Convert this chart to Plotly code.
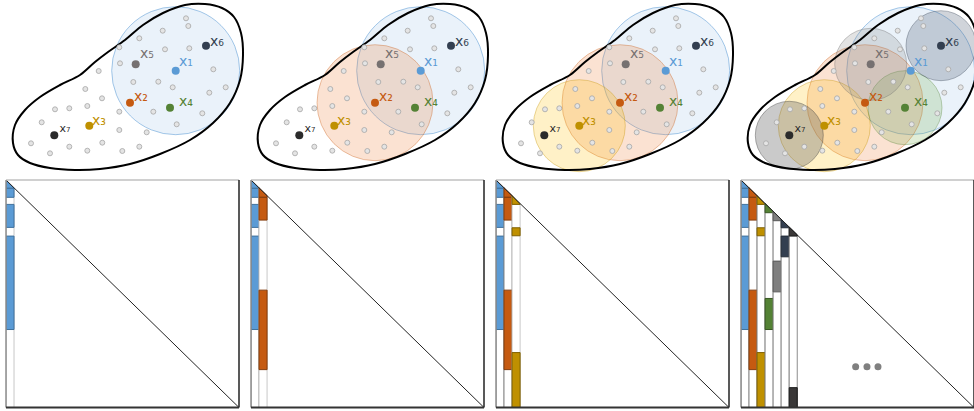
import plotly.graph_objects as go

# ---------------- data ----------------
# panel-relative pixel-like coordinates of the top sketch (y grows downward)
blob_x = [13, 18, 30, 50, 75, 100, 130, 160, 190, 213, 230, 240, 243, 241, 234, 222, 205, 185, 163, 143, 125, 108, 95, 80, 60, 40, 25, 15, 13]
blob_y = [143, 155, 163, 168, 170, 169, 164, 154, 140, 123, 103, 80, 55, 33, 17, 8, 4, 5, 13, 25, 40, 52, 62, 75, 85, 97, 110, 125, 143]

bg_x = [186, 188.3, 162.7, 139.3, 165, 189.3, 119.3, 120, 98.7, 213.3, 133.3, 158.3, 172.7, 85.3, 102, 209.3, 225.7,
        55, 69.3, 87.3, 119.3, 153.3, 202.3, 41.7, 119.3, 146.7, 176.7, 31, 50, 69.3, 87.3, 102.3, 122.3, 139.3]
bg_y = [18.3, 26, 30.7, 38.3, 49.3, 48.3, 47.3, 63.3, 71, 69.3, 82, 81.7, 87.3, 89, 98.3, 92.7, 87.3,
        109.3, 108.3, 106, 111.7, 111.7, 113.3, 122.3, 130, 132.3, 124.3, 143.3, 153.3, 146.7, 150.7, 142.7, 151, 146.7]

pt_names = ["x₁", "x₂", "x₃", "x₄", "x₅", "x₆", "x₇"]
pt_x = [175.7, 130, 89.3, 170, 135.7, 206, 54.3]
pt_y = [70.7, 102.7, 125.7, 107.7, 64.3, 45.7, 135.3]
lab_x = [186, 141, 99, 186, 147, 217, 65]
lab_y = [62, 97, 121, 102, 54, 42, 129]
radius = [64, 58, 46, 37, 36, 35, 34]

# matrix columns: first segment starts at the diagonal; values in row units (0..29)
col_segments = [
    [(None, 1.06), (1.06, 2.21), (3.11, 6.04), (7.15, 19.06)],
    [(None, 2.21), (2.21, 5.11), (14.04, 24.17)],
    [(None, 3.11), (6.09, 7.11), (22.0, 29.0)],
    [(None, 4.17), (15.1, 19.06)],
    [(None, 5.19), (10.34, 14.26)],
    [(None, 6.09), (7.15, 9.79)],
    [(None, 7.15), (26.47, 29.0)],
]
n_cols_per_panel = [1, 2, 3, 7]
N = 29
dots_x = [14.27, 15.68, 17.05]
dots_y = [23.8, 23.8, 23.8]

# ---------------- styles ----------------
pt_colors = ["#5b9bd5", "#c55a11", "#bf9000", "#548235", "#767171", "#333f50", "#2b2b2b"]
bar_colors = ["#5b9bd5", "#c55a11", "#bf9000", "#548235", "#7f7f7f", "#333f50", "#3a3838"]
bar_lines = ["#41719c", "#843c0c", "#7f6000", "#385723", "#595959", "#222a35", "#1a1a1a"]
circ_fill = ["rgba(91,155,213,0.13)", "rgba(237,125,49,0.22)", "rgba(255,192,0,0.22)",
             "rgba(112,173,71,0.22)", "rgba(128,128,128,0.22)", "rgba(68,84,106,0.25)", "rgba(90,90,90,0.32)"]
circ_line = ["rgba(91,155,213,0.55)", "rgba(197,90,17,0.35)", "rgba(191,144,0,0.35)",
             "rgba(84,130,53,0.35)", "rgba(100,100,100,0.35)", "rgba(51,63,80,0.35)", "rgba(60,60,60,0.4)"]

W, H = 974, 411
offsets = [0, 245, 490, 735]

fig = go.Figure()
layout = dict(width=W, height=H, margin=dict(l=0, r=0, t=0, b=0), autosize=False,
              paper_bgcolor="white", plot_bgcolor="rgba(0,0,0,0)", showlegend=False)
shapes = []

for p, off in enumerate(offsets):
    ti = p + 1
    bi = p + 5
    pw = min(245, W - off)
    layout[f"xaxis{ti}"] = dict(domain=[off / W, (off + pw) / W], range=[0, pw], visible=False, fixedrange=True)
    layout[f"yaxis{ti}"] = dict(domain=[1 - 175 / H, 1], range=[175, 0], visible=False, fixedrange=True)
    x0 = (off + 6) / W
    x1 = min((off + 239) / W, 1)
    layout[f"xaxis{bi}"] = dict(domain=[x0, x1], range=[0, N], visible=False, fixedrange=True)
    layout[f"yaxis{bi}"] = dict(domain=[1 - 407.5 / H, 1 - 180 / H], range=[N, 0], visible=False, fixedrange=True)
    xa, ya = f"x{ti}", f"y{ti}"
    xb, yb = f"x{bi}", f"y{bi}"

    # circles
    ncirc = n_cols_per_panel[p]
    for k in range(ncirc):
        shapes.append(dict(type="circle", xref=xa, yref=ya, layer="below",
                           x0=pt_x[k] - radius[k], x1=pt_x[k] + radius[k],
                           y0=pt_y[k] - radius[k], y1=pt_y[k] + radius[k],
                           fillcolor=circ_fill[k], line=dict(color=circ_line[k], width=1)))
    # blob outline
    fig.add_trace(go.Scatter(x=blob_x, y=blob_y, mode="lines", xaxis=xa, yaxis=ya,
                             line=dict(color="black", width=2, shape="spline", smoothing=1.0),
                             hoverinfo="skip"))
    # background points
    fig.add_trace(go.Scatter(x=bg_x, y=bg_y, mode="markers", xaxis=xa, yaxis=ya,
                             marker=dict(size=5, color="#e4e4e4", line=dict(color="#a6a6a6", width=0.8)),
                             hoverinfo="skip"))
    # labeled points
    fig.add_trace(go.Scatter(x=pt_x, y=pt_y, mode="markers", xaxis=xa, yaxis=ya,
                             marker=dict(size=8, color=pt_colors, line=dict(width=0)), hoverinfo="skip"))
    fig.add_trace(go.Scatter(x=lab_x, y=lab_y, mode="text", text=pt_names,
                             xaxis=xa, yaxis=ya,
                             textfont=dict(size=[14, 14, 14, 14, 14, 14, 11], color=pt_colors,
                                           family="DejaVu Sans"),
                             hoverinfo="skip"))

    # matrix columns
    ncol = n_cols_per_panel[p]
    for k in range(ncol):
        last = (k == ncol - 1) and p < 3
        fig.add_trace(go.Scatter(x=[k, k + 1, k + 1, k, k], y=[k, k + 1, N, N, k], mode="lines",
                                 fill="toself", fillcolor="white", xaxis=xb, yaxis=yb,
                                 line=dict(color="#c8c8c8" if last else "#8c8c8c", width=1),
                                 hoverinfo="skip"))
        for (s, e) in col_segments[k]:
            if s is None:
                xs = [k, k + 1, k + 1, k, k]
                ys = [k, k + 1, e, e, k]
            else:
                xs = [k, k + 1, k + 1, k, k]
                ys = [s, s, e, e, s]
            fig.add_trace(go.Scatter(x=xs, y=ys, mode="lines", fill="toself", fillcolor=bar_colors[k],
                                     xaxis=xb, yaxis=yb, line=dict(color=bar_lines[k], width=1),
                                     hoverinfo="skip"))
    # diagonal
    fig.add_trace(go.Scatter(x=[0, N], y=[0, N], mode="lines", xaxis=xb, yaxis=yb,
                             line=dict(color="#222222", width=1), hoverinfo="skip"))
    if p == 3:
        fig.add_trace(go.Scatter(x=dots_x, y=dots_y, mode="markers", xaxis=xb, yaxis=yb,
                                 marker=dict(size=7, color="#808080"), hoverinfo="skip"))
    # frame
    shapes.append(dict(type="line", xref=f"{xb} domain", yref=f"{yb} domain", x0=0, x1=1, y0=1, y1=1,
                       line=dict(color="#c0c0c0", width=1.5)))
    shapes.append(dict(type="line", xref=f"{xb} domain", yref=f"{yb} domain", x0=0, x1=0, y0=0, y1=1,
                       line=dict(color="#8c8c8c", width=1.5)))
    shapes.append(dict(type="line", xref=f"{xb} domain", yref=f"{yb} domain", x0=1, x1=1, y0=0, y1=1,
                       line=dict(color="#222222", width=1.5)))
    shapes.append(dict(type="line", xref=f"{xb} domain", yref=f"{yb} domain", x0=0, x1=1, y0=0, y1=0,
                       line=dict(color="#333333", width=2)))

layout["shapes"] = shapes
fig.update_layout(**layout)
fig.write_html("out.html", config={"displayModeBar": False, "staticPlot": True},
               post_script="document.body.style.margin='0';document.body.style.overflow='hidden';")
